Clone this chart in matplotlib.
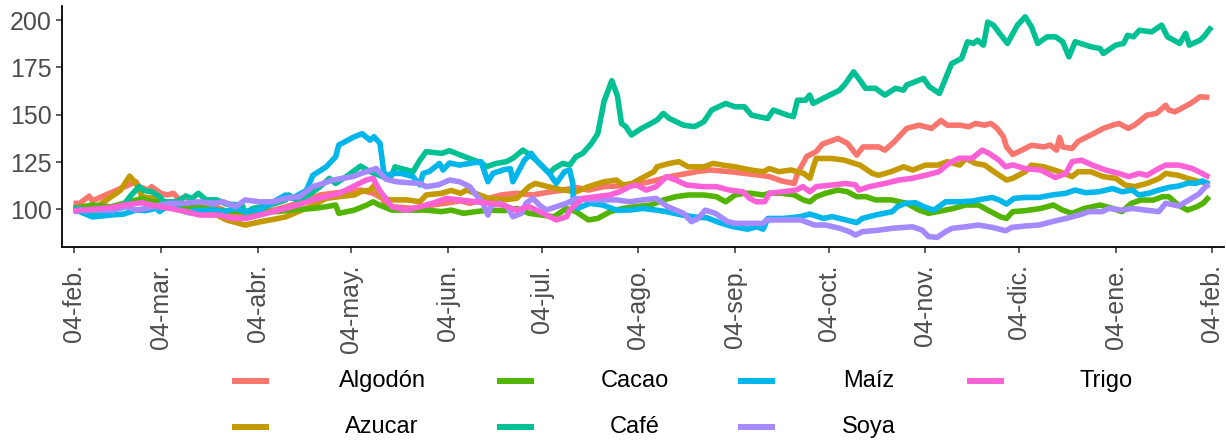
import numpy as np
import matplotlib
matplotlib.use("Agg")
import matplotlib.pyplot as plt

plt.rcParams['font.family'] = ['Liberation Sans', 'DejaVu Sans']

# ---------------- data (day offset from 2021-02-04, index value) ----------------
start_date = "2021-02-04"

algodon_days = [0,2,5,6,20,21,24,25,28,30,32,34,36,38,42,46,49,52,55,60,64,70,75,79,83,87,92,96,99,100,102,109,112,115,119,124,127,133,137,142,147,153,157,161,165,170,174,178,183,187,191,195,200,204,210,215,220,223,227,231,232,235,238,240,245,248,251,253,258,260,263,267,271,275,278,280,284,287,289,292,294,296,298,299,301,305,307,311,313,315,316,317,320,322,328,330,333,335,338,340,344,347,350,351,353,355,358,361,364]
algodon_vals = [103.2,103.2,107,104.5,114.6,112,110.2,112,108.5,107.6,108.5,105,107,104,103.2,101,99,97,96.5,98.8,99.6,102.3,105,107.6,108.5,109.3,110.2,108.5,105.8,102.3,101.4,100.5,100.5,102.3,103.2,104.5,103.2,105.8,107.6,108.5,107.6,109.3,110.2,111.6,110.2,112,112.3,112.9,114,115.5,117.3,118.5,120,120.8,120,119,118,117.3,115,113.7,119,128,130.5,134.5,137.5,134.9,128.7,133,133,131.3,135.7,142.8,144.5,142.8,147,144.5,144.5,143.7,145.4,144.5,145.4,142.8,138.4,133,129,132.2,133.9,133,134,131.3,138,133,132.2,136,141,142.8,144.5,145.4,142.8,144.5,149.8,150.7,155,152.5,151.6,153.3,156,159.5,159.2]

azucar_days = [0,8,15,18,20,22,25,28,32,36,40,46,49,53,55,60,64,68,72,77,81,85,90,92,95,96.5,98,101,107,111,113,118,121,124,126,133,138,142,146,148,152,157,161,165,170,174,176,179,182,186,187,191,194,197,202,205,208,212,217,221,223,226,230,234,236,237,238,243,247,252,256,258,262,266,269,273,277,280,284,286,289,292,295,299,301,305,307,311,316,320,322,326,330,334,337,340,344,348,350,354,357,361,364]
azucar_vals = [100.5,102,110,117.6,113.7,106.7,106,105,101.4,98.8,97.9,97,94.4,92.6,91.7,93.5,94.7,96,98.8,102.3,105.8,106.7,107.6,109.3,110.2,112.9,107.6,105,105,104,107.6,108.5,110,108.5,110.2,105.8,105,105.8,112,113.7,112,110.2,109.3,112,114.6,115.5,112.9,113.7,116.4,119.9,122.5,124.3,125.2,122.5,122.5,124.3,123.4,122.5,120.8,119.9,121.6,119.9,120.8,119,116.4,122,126.9,126.9,126,123.4,119,118,119.9,122.5,120.8,123.4,123.4,125.2,123.4,126.9,124.3,123.4,119.9,115.5,116.4,119.9,123.4,122.5,119.9,117.3,119.9,119.9,117.3,116.4,112.9,112,113.7,116.4,119,118,116.4,114.6,113.7]

cacao_days = [0,6,12,18,22,25,28,32,38,46,53,60,65,70,77,81,84,85,90,94,96,98,102,109,113,118,121,125,129,133,138,142,146,150,154,158,161,165,168,172,176,180,185,189,193,197,202,206,209,212,215,217,221,223,227,231,234,236,238,241,245,248,251,254,257,262,267,271,274,277,282,286,290,293,297,299,301,305,310,314,317,320,324,329,333,336,339,342,346,349,351,354,357,360,362,364]
cacao_vals = [100.5,102.3,101.4,104,105.8,104,104,102.3,101.4,99.6,98.8,98.8,98.8,99.6,100.5,101.4,102.3,97.9,99.6,102.3,104,102.3,99.6,99.6,99.6,98.8,99.6,97.9,98.8,99.6,99.3,100.5,97.9,97,96.1,100.5,98.8,94.4,95.2,98.8,100.5,101.4,102.3,104.9,106.7,107.6,107.6,106.7,104,107.6,108.5,108.5,107.6,108.5,108.5,107.6,104.9,104,106.7,108.5,110.2,109.3,106.7,106.7,105,105,103.2,99.6,97.9,98.8,100.5,102.3,102.3,99.6,96.1,95.2,98.8,99.3,100.5,102.3,99.6,97.9,100.5,102.3,100.5,98.8,103.2,104.9,104.9,106.7,106.7,102.3,99.6,101.4,103.2,106.7]

cafe_days = [0,2,6,12,16,18.5,21,22.5,25,27.6,29,33,36,38,40,42.5,46,49,54,55,57.5,63,68,69,71,74.6,79,82,84,87.4,92,95,99,102,103,108.8,111,113,118,120.5,124,131,132.3,135.5,138.7,140.8,144,145.6,148.3,152.5,154,156.8,159,161,163.2,166,168,170,172.5,174.3,175.6,177,178.8,182,184,187,189,191,195.5,199,202,204.5,209,212,215,217.3,222.4,224.3,228.8,230.7,232,234.6,235.9,237,245.5,247.4,250,252,253.8,257,260,263.4,266,267,272.4,274.3,277.5,278.8,281.4,284.6,286.5,288.4,289.7,291.6,293,294.8,296.8,299.3,302.5,305,307,309,312,314.7,317,319,321,326,329,330,334,336.5,337.8,339.7,341.6,345.5,348.7,350.6,354.5,356.4,357.6,361,362.2,364.7]
cafe_vals = [100.5,100.5,96.5,99.6,102.3,107.6,112,110,109.3,106.7,104,104,107,105.8,108.5,105,105,102.8,102.3,98.2,100.5,102.3,105,107.6,105.3,106.7,112,116.4,113.7,117.3,122.9,119.9,117.3,118,122.5,119.9,126,130.5,129.6,131,128.7,124.3,122.5,124.3,125.2,127,131.3,129.6,126,119,121.6,124.3,123.4,127.8,129.6,134.9,140,157,168,160,145.4,143.7,139.3,142.8,144.5,147.2,150.7,148,144.5,143.7,146.3,152.5,156,154.2,154.2,149.8,148,152.5,149.8,149,157.7,157.7,160.4,156,163,166.5,172.7,168.3,164,164,160.4,164,163,165.7,169.2,164.8,161.3,166.5,177,179.8,188.6,187.7,189.4,186.8,199,197.4,193,187.7,197.4,201.8,196.5,187.7,191.2,191.2,188.6,180.6,188.6,186,185,182.4,186.8,187.7,192,191.2,194.7,193.8,197.4,191.2,187.7,193,186.8,189.4,191.2,196.5]

maiz_days = [0,2,6,12,16,20,23,26.5,27.6,29.7,33,37,39,41.5,44.7,48,52,55,60,64,68,70,74.6,76.7,81,84,85,90,92.5,95,96.3,98.2,99.5,100.7,102,105,108.8,111,112,114,117.3,118.4,120.5,123.7,127,130.6,132.8,134.4,138,140,140.8,144.5,146.7,148.3,152.5,154.7,157.4,159,160,160.2,161.6,165.4,169.6,174,178.2,182.5,186.7,190,195,199,203,207,211,216,219,221,222.5,227.5,232.7,236,240.4,243,246,251,252.8,257,262.4,264,266.6,269.8,272.5,275.7,279.5,283.7,288,291,294.4,296.6,299,301.4,305,309.4,313.6,318,321,324.3,328.6,333,336,339.3,341.4,344.6,347.8,351,354,357.5,359.6,361.7,364]
maiz_vals = [99.6,98.8,96,97,97.5,99.6,99.3,100.5,98.8,101.4,100.5,98.2,99.6,99.3,100,98.8,100.5,98.8,100,104,107.6,105.8,110,118,122.5,127.8,134,138.4,140,136.6,138.4,134.9,119,118,119,119,117.3,112.9,119,120,124.3,120.8,124.5,123.4,124.3,125.2,114.6,119,121,121.5,114.6,126,129.6,126,119,113.7,120,120.8,113.7,101.4,100.5,103.2,102.3,99.6,99.6,100.5,99.6,98.8,97,96,95.5,93,91,89.5,90.8,89.5,95.2,95.2,96.1,97.5,95.2,96.2,95,93,95.2,97,98.8,101.4,103.2,103.5,101.4,99.6,104,104,104.4,105.3,106.3,105,102.8,105.8,106.3,106.3,107.6,108.5,110.2,108.8,109.3,111,109.3,110.2,107.6,108.5,110.2,111.6,112.3,114,113.7,115,113.2]

soya_days = [0,2,8,12.6,17,20,23.3,27.6,30.8,36,40.4,44.7,48,52,55,59.6,64,68,72.4,76.7,80,83,86.3,89.5,92.2,97,100,103.4,108,111,113,117,120.5,123.7,127,129,131,132.8,133.9,136.5,139,140.8,143.5,145,147.2,149.3,151.5,154.7,158,161,165.4,169.6,174,178.2,182.5,186.7,190.4,195.5,198,200,202.5,205.7,209.6,212,216,221,222,227,233,237.5,241,245.5,248.7,250.6,252.8,258,262.4,268.8,272,274,276.8,279.5,281.6,286,290,294.4,298.7,300.8,305,309.4,313.6,318,322.2,325.4,329.7,331.8,336,339.3,343.6,347.8,350,354.2,357.5,360.6,362.8,364]
soya_vals = [98.8,99.6,99.6,99.6,101.4,99.6,100.5,102.3,103.2,103.2,104,103.2,104,101.4,105,104,104,105.8,106.7,112,113.7,115.5,116.4,117.3,119,121.6,116,114.6,114,113.7,112,113,115.5,114.6,112,107.6,104,97,102.3,103.2,101.4,96.1,97.9,103.2,105.8,102.3,99.6,101.4,103.2,105.8,105,105,105,104,105,105.8,101.4,97.9,93.5,95,99.6,97.9,93.5,92.6,92.6,92.6,94.4,94.4,94.4,91.7,91.7,90,88.2,86.4,88.2,89,90,90.8,89,85.6,85.2,88.2,90,90.8,91.7,90.5,88.7,90.5,91.2,91.7,93.5,95.2,97,98.8,98.8,100.5,99.6,100.5,99.6,98.8,103.2,101.8,105,108.1,112,113.2]

trigo_days = [0,6,12,17,22,27,31,36,40.4,46.8,51,55.3,59.6,64,70,76.7,81,85.3,89.5,93.8,96,98,102,106.6,111,115,119.4,123.7,129,133.3,137.6,141.9,146.1,150.4,154.7,158,159,163.2,167.5,171.8,175,178.2,180.3,183.5,186.7,190,193,196.4,201.7,206,210.2,214.5,216.7,218.8,221.5,223,227.3,231.6,233.7,236,238,243.4,247.4,250.6,251.7,255,260,264.5,268.8,273,277.3,280.5,283.7,288,291.2,293.4,296.6,298.7,301,305,310,314.7,318,320,323,326.5,330.7,335,338.2,341.4,344,347.8,350,354.2,358.5,361.7,364]
trigo_vals = [99.3,100,101,102.5,103.5,101.5,100.5,98.8,97,97,95.2,95.2,97,98.8,101.4,105,106.7,108.5,112,115.5,116.4,110.2,101.4,99.6,101.4,103.2,105.8,105,104,103.2,102.3,99.6,101.4,97.9,94.4,96.1,99.6,105.8,106.7,107.6,109.3,112,112.9,110.2,112,117.3,115.5,112.9,112,112,110.2,109.3,105.8,104,104,108.5,109.3,110.2,112,109.3,112,112.9,113.7,112.9,110.2,112,113.7,115.5,116.4,118,119.9,124.3,127,127,131.3,129.6,126,122.5,123.5,121.5,120.8,116.8,119,125.2,126,123.4,120.8,119,117.3,119,118,121.6,123.4,123.4,121.6,119,116.9]

series_names = ["Algodón", "Azucar", "Cacao", "Café", "Maíz", "Soya", "Trigo"]
series_days = [algodon_days, azucar_days, cacao_days, cafe_days, maiz_days, soya_days, trigo_days]
series_vals = [algodon_vals, azucar_vals, cacao_vals, cafe_vals, maiz_vals, soya_vals, trigo_vals]
series_colors = ["#F8766D", "#C49A00", "#53B400", "#00C094", "#00B6EB", "#A58AFF", "#FB61D7"]

x_tick_labels = ["04-feb.", "04-mar.", "04-abr.", "04-may.", "04-jun.", "04-jul.", "04-ago.",
                 "04-sep.", "04-oct.", "04-nov.", "04-dic.", "04-ene.", "04-feb."]
y_ticks = [100, 125, 150, 175, 200]

# ---------------- figure ----------------
W, H = 1226, 443
fig = plt.figure(figsize=(W / 100, H / 100), dpi=100)
ax = fig.add_axes([62 / W, 1 - 247 / H, (1224 - 62) / W, (247 - 6) / H])

t0 = np.datetime64(start_date).astype("datetime64[s]")
for name, d, v, c in zip(series_names, series_days, series_vals, series_colors):
    if len(d) != len(v):
        raise ValueError(f"{name}: {len(d)} days vs {len(v)} values")
    dates = t0 + (np.array(d, dtype=float) * 86400).astype("timedelta64[s]")
    ax.plot(dates, v, color=c, lw=4.0, solid_joinstyle="round", solid_capstyle="butt")

months = np.arange(np.datetime64("2021-02"), np.datetime64("2022-03"))
tick_dates = months.astype("datetime64[D]") + 3
ax.set_xticks(tick_dates)
ax.set_xticklabels(x_tick_labels, rotation=90)
pad_days = np.timedelta64(int(3.7 * 86400), "s")
ax.set_xlim(tick_dates[0].astype("datetime64[s]") - pad_days,
            tick_dates[-1].astype("datetime64[s]") + pad_days)

ax.set_yticks(y_ticks)
ax.set_ylim(80.1, 207.5)

for s in ["top", "right"]:
    ax.spines[s].set_visible(False)
for s in ["left", "bottom"]:
    ax.spines[s].set_linewidth(1.3)
    ax.spines[s].set_color("black")
ax.tick_params(axis="both", colors="#333333", width=1.1, length=4.5,
               labelcolor="#4D4D4D", labelsize=18)
ax.tick_params(axis="x", pad=8)
ax.tick_params(axis="y", pad=3)

# ---------------- legend (bottom, 2 rows x 4 columns, centred labels) ----------------
lax = fig.add_axes([0, 0, 1, 1])
lax.set_xlim(0, W)
lax.set_ylim(H, 0)
lax.axis("off")
key_x = [232, 497, 738, 967]
text_cx = [382, 635, 869, 1106]
row_y = [381, 427]
for i, (name, c) in enumerate(zip(series_names, series_colors)):
    col, row = i // 2, i % 2
    lax.plot([key_x[col], key_x[col] + 37], [row_y[row], row_y[row]], color=c,
             lw=4.3, solid_capstyle="butt")
    lax.text(text_cx[col], row_y[row], name, ha="center", va="center",
             fontsize=17, color="black")

fig.savefig("out.png", dpi=100)
